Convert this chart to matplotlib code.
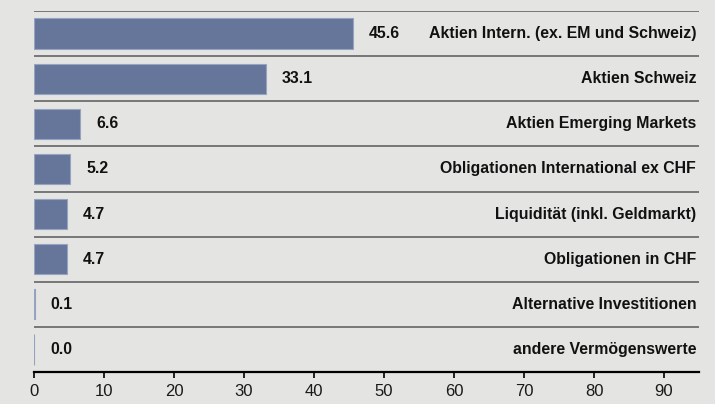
import numpy as np
import matplotlib.pyplot as plt

plt.rcParams['font.family'] = ['Liberation Sans', 'DejaVu Sans']

categories = ["Aktien Intern. (ex. EM und Schweiz)", "Aktien Schweiz",
              "Aktien Emerging Markets", "Obligationen International ex CHF",
              "Liquidität (inkl. Geldmarkt)", "Obligationen in CHF",
              "Alternative Investitionen", "andere Vermögenswerte"]
values = [45.6, 33.1, 6.6, 5.2, 4.7, 4.7, 0.1, 0.0]
ticks = [0, 10, 20, 30, 40, 50, 60, 70, 80, 90]

bg = '#e4e4e2'
fig = plt.figure(figsize=(7.15, 4.04), dpi=100, facecolor=bg)
ax = fig.add_axes([34/715, 32/404, 665/715, 361/404], facecolor=bg)

n = len(values)
y = np.arange(n)
ax.barh(y, values, height=0.67, color='#66759a', edgecolor='#95a2c0', linewidth=0.8)
ax.set_ylim(n - 0.5, -0.5)
ax.set_xlim(0, 95)

# row separators
for b in np.arange(n) - 0.5:
    ax.axhline(b, color='#6e6e6e', lw=1.3, zorder=0)

for i, (v, c) in enumerate(zip(values, categories)):
    ax.annotate(f"{v:.1f}", (v, i), xytext=(16, 0), textcoords='offset pixels',
                ha='left', va='center', fontsize=11.4, fontweight='bold', color='#111111')
    ax.text(94.6, i, c, ha='right', va='center', fontsize=11.4, fontweight='bold',
            color='#111111')

ax.set_xticks(ticks)
ax.set_yticks([])
for s in ['top', 'right', 'left']:
    ax.spines[s].set_visible(False)
ax.spines['bottom'].set_linewidth(1.6)
ax.tick_params(axis='x', direction='out', length=4, width=1.2, labelsize=12,
               pad=4.5, colors='black', labelcolor='#1a1a1a')

fig.savefig('out.png', dpi=100, facecolor=bg)
